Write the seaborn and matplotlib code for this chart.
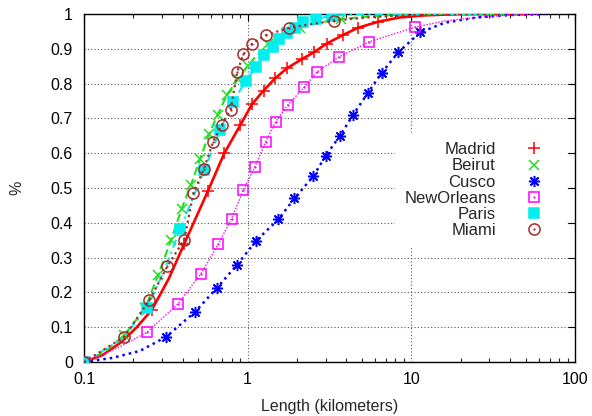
import numpy as np
import pandas as pd
import matplotlib
matplotlib.use("Agg")
import matplotlib.pyplot as plt
from matplotlib.lines import Line2D
from matplotlib.legend_handler import HandlerTuple
from matplotlib.ticker import FixedLocator, LogLocator, NullFormatter
import seaborn as sns

# Cumulative distribution of trip length per city
madrid_x = [0.1, 0.13, 0.17, 0.21, 0.26, 0.33, 0.41, 0.57, 0.72, 0.90, 1.06, 1.25, 1.47,
            1.75, 2.14, 2.54, 3.04, 3.84, 4.7, 6.3, 8.5, 12, 20, 50]
madrid_y = [0.0, 0.02, 0.058, 0.10, 0.15, 0.24, 0.34, 0.49, 0.60, 0.68, 0.74, 0.78, 0.815,
            0.845, 0.87, 0.89, 0.915, 0.94, 0.96, 0.978, 0.99, 0.996, 1.0, 1.0]
madrid_marks = [0, 4, 6, 7, 8, 9, 10, 11, 12, 13, 14, 15, 16, 17, 18, 19]

beirut_x = [0.1, 0.135, 0.176, 0.236, 0.284, 0.34, 0.395, 0.451, 0.512, 0.58, 0.656, 0.745,
            0.87, 1.0, 1.19, 1.34, 1.7, 2.1, 2.7, 3.7, 5.5, 8, 15, 50]
beirut_y = [0.0, 0.03, 0.077, 0.154, 0.25, 0.35, 0.44, 0.51, 0.583, 0.655, 0.71, 0.767,
            0.812, 0.852, 0.89, 0.913, 0.94, 0.96, 0.975, 0.985, 0.993, 0.997, 1.0, 1.0]
beirut_marks = [0, 2, 3, 4, 5, 6, 7, 8, 9, 10, 11, 12, 13, 15, 17, 19]

cusco_x = [0.1, 0.15, 0.22, 0.317, 0.477, 0.652, 0.857, 1.124, 1.54, 1.93, 2.52, 2.99, 3.66,
           4.42, 5.4, 6.59, 8.32, 11.3, 16, 25, 40, 65]
cusco_y = [0.0, 0.012, 0.032, 0.072, 0.144, 0.214, 0.278, 0.348, 0.41, 0.47, 0.534, 0.592,
           0.65, 0.711, 0.772, 0.831, 0.89, 0.947, 0.975, 0.99, 0.997, 1.0]
cusco_marks = [0, 3, 4, 5, 6, 7, 8, 9, 10, 11, 12, 13, 14, 15, 16, 17]

neworleans_x = [0.1, 0.16, 0.242, 0.377, 0.518, 0.661, 0.798, 0.94, 1.108, 1.288, 1.48,
                1.755, 2.21, 2.66, 3.63, 5.53, 10.5, 16, 25, 40, 60]
neworleans_y = [0.0, 0.04, 0.085, 0.168, 0.254, 0.338, 0.412, 0.494, 0.561, 0.633, 0.69,
                0.738, 0.789, 0.834, 0.877, 0.92, 0.962, 0.98, 0.99, 0.997, 1.0]
neworleans_marks = [0, 2, 3, 4, 5, 6, 7, 8, 9, 10, 11, 12, 13, 14, 15, 16]

paris_x = [0.1, 0.17, 0.244, 0.31, 0.386, 0.543, 0.68, 0.817, 0.972, 1.12, 1.26, 1.42,
           1.56, 1.74, 1.95, 2.18, 2.6, 3.27, 4.2, 6, 10, 30]
paris_y = [0.0, 0.065, 0.156, 0.265, 0.381, 0.551, 0.668, 0.748, 0.807, 0.848, 0.881,
           0.906, 0.928, 0.944, 0.959, 0.976, 0.986, 0.995, 0.998, 1.0, 1.0, 1.0]
paris_marks = [0, 2, 4, 5, 6, 7, 8, 9, 10, 11, 12, 13, 14, 15, 16, 17]

miami_x = [0.1, 0.176, 0.251, 0.323, 0.41, 0.466, 0.541, 0.616, 0.694, 0.787, 0.864, 0.94,
           1.067, 1.29, 1.8, 3.38, 6, 12, 30]
miami_y = [0.0, 0.072, 0.178, 0.275, 0.352, 0.485, 0.556, 0.633, 0.681, 0.725, 0.834,
           0.884, 0.915, 0.939, 0.961, 0.981, 0.992, 0.998, 1.0]
miami_marks = list(range(16))

y_ticks = [0.0, 0.1, 0.2, 0.3, 0.4, 0.5, 0.6, 0.7, 0.8, 0.9, 1.0]
y_tick_labels = ["0", "0.1", "0.2", "0.3", "0.4", "0.5", "0.6", "0.7", "0.8", "0.9", "1"]
x_ticks = [0.1, 1, 10, 100]
x_tick_labels = ["0.1", "1", "10", "100"]

sns.set_theme(style="white")
plt.rcParams["font.family"] = ["Liberation Sans", "DejaVu Sans"]
plt.rcParams["font.size"] = 11.5

fig = plt.figure(figsize=(5.92, 4.16), dpi=100)
ax = fig.add_axes([84 / 592, 1 - 362 / 416, 491 / 592, 348 / 416])

series = [
    dict(name="Madrid", x=madrid_x, y=madrid_y, marks=madrid_marks, color="#ff0000",
         ls="-", lw=1.9, marker="+", ms=8, mfc="#ff0000", dot=False),
    dict(name="Beirut", x=beirut_x, y=beirut_y, marks=beirut_marks, color="#22dd22",
         ls=(0, (4, 2)), lw=1.5, marker="x", ms=6.5, mfc="#22dd22", dot=False),
    dict(name="Cusco", x=cusco_x, y=cusco_y, marks=cusco_marks, color="#0000ff",
         ls=(0, (1, 1.6)), lw=1.8, marker=(8, 2, 0), ms=8, mfc="#0000ff", dot=False),
    dict(name="NewOrleans", x=neworleans_x, y=neworleans_y, marks=neworleans_marks,
         color="#ff00ff", ls=(0, (1, 1.2)), lw=1.0, marker="s", ms=7.5, mfc="none", dot=True),
    dict(name="Paris", x=paris_x, y=paris_y, marks=paris_marks, color="#00eeee",
         ls=(0, (4, 2, 1, 2)), lw=1.5, marker="s", ms=7.5, mfc="#00eeee", dot=False),
    dict(name="Miami", x=miami_x, y=miami_y, marks=miami_marks, color="#a52a2a",
         ls=(0, (1, 1.6)), lw=1.6, marker="o", ms=8, mfc="none", dot=True),
]

handles = []
labels = []
for s in series:
    df = pd.DataFrame({"x": s["x"], "y": s["y"]})
    sns.lineplot(data=df, x="x", y="y", ax=ax, estimator=None, sort=False,
                 color=s["color"], linestyle=s["ls"], linewidth=s["lw"],
                 marker=s["marker"], markersize=s["ms"], markevery=s["marks"],
                 markerfacecolor=s["mfc"], markeredgecolor=s["color"],
                 markeredgewidth=1.1, zorder=3)
    if s["dot"]:
        sns.lineplot(data=df, x="x", y="y", ax=ax, estimator=None, sort=False,
                     color=s["color"], linestyle="none", marker="o", markersize=1.6,
                     markevery=s["marks"], markerfacecolor=s["color"],
                     markeredgecolor=s["color"], markeredgewidth=0, zorder=3)
    h = Line2D([], [], linestyle="none", marker=s["marker"], markersize=s["ms"],
               markerfacecolor=s["mfc"], markeredgecolor=s["color"],
               markeredgewidth=1.1, color=s["color"])
    if s["dot"]:
        d = Line2D([], [], linestyle="none", marker="o", markersize=1.6,
                   markerfacecolor=s["color"], markeredgecolor=s["color"],
                   markeredgewidth=0)
        h = (h, d)
    handles.append(h)
    labels.append(s["name"])

ax.set_xscale("log")
ax.set_xlim(0.1, 100)
ax.set_ylim(0, 1)
ax.xaxis.set_major_locator(FixedLocator(x_ticks))
ax.set_xticklabels(x_tick_labels)
ax.xaxis.set_minor_locator(LogLocator(base=10, subs=np.arange(2, 10)))
ax.xaxis.set_minor_formatter(NullFormatter())
ax.set_yticks(y_ticks)
ax.set_yticklabels(y_tick_labels)

ax.grid(True, which="major", color="#555555", linestyle=(0, (1, 2)), linewidth=0.8)
ax.set_axisbelow(True)
for sp in ax.spines.values():
    sp.set_color("black")
    sp.set_linewidth(1.0)

ax.tick_params(axis="both", which="major", direction="in", length=5, width=0.8,
               top=True, right=True, labelsize=11.5, colors="black", pad=7)
ax.tick_params(axis="x", which="minor", direction="in", length=3, width=0.8,
               top=True, bottom=True)
ax.tick_params(axis="y", which="major", pad=8)

ax.set_xlabel("Length (kilometers)", fontsize=11.5, labelpad=9)
ax.set_ylabel("%", fontsize=11.5, labelpad=19)

# labels sit right-aligned to the left of their markers
leg = ax.legend(handles, labels, loc="upper right",
                bbox_to_anchor=((565 - 84) / 491, (362 - 133) / 348),
                markerfirst=False, frameon=True, framealpha=1.0, fancybox=False,
                edgecolor="white", facecolor="white", fontsize=12,
                labelspacing=0.07, handlelength=2.6, handletextpad=1.0,
                borderpad=0.55, borderaxespad=0,
                handler_map={tuple: HandlerTuple(ndivide=1)})
leg.set_zorder(5)

fig.savefig("out.png", dpi=100)
